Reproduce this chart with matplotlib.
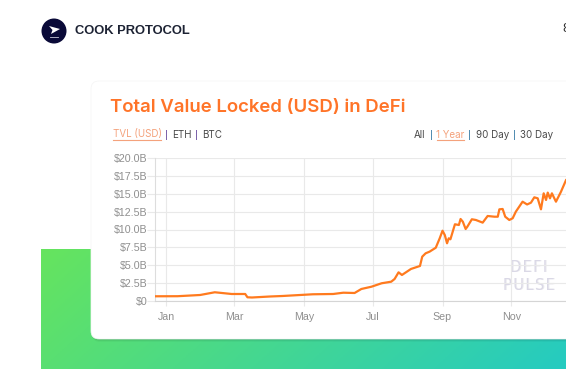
import numpy as np
import matplotlib
matplotlib.use("Agg")
import matplotlib.pyplot as plt
from matplotlib.patches import Circle, FancyBboxPatch, Polygon

W, H = 566, 369

# day of the year and TVL in billions
days = [-9.6, 10, 30, 43, 47.5, 58, 70, 72, 76, 92, 103, 130, 148, 157, 167, 173, 182, 191,
        199.5, 202.5, 206, 209, 217, 225, 227, 230, 233.5, 239, 242.5, 245, 247, 249, 250.5,
        252, 256, 259.5, 261, 263, 265.5, 267, 271, 274.6, 280.6, 285, 291, 294, 295.4, 298.3,
        300.6, 304.2, 307.2, 310, 316, 320, 323.4, 326.4, 329.4, 332.3, 334.7, 336.8, 338.3,
        340.3, 342, 345.6, 350, 354.5]
tvl = [0.66, 0.67, 0.84, 1.22, 1.15, 0.98, 0.98, 0.52, 0.49, 0.63, 0.70, 0.94, 0.98, 1.16,
       1.12, 1.68, 2.0, 2.48, 2.7, 3.08, 4.01, 3.64, 4.48, 4.9, 6.2, 6.67, 6.9, 7.45, 8.77,
       9.83, 9.23, 8.07, 8.77, 8.63, 10.73, 10.63, 11.47, 11.09, 10.07, 10.39, 11.43, 11.33,
       10.96, 11.89, 11.79, 11.79, 12.82, 12.87, 11.79, 11.33, 11.57, 12.49, 13.89, 13.5,
       13.75, 14.5, 14.36, 12.82, 15.06, 14.13, 15.16, 14.36, 15.06, 13.89, 15.27, 16.9]

month_days = [0, 60, 122, 183, 245, 306]
month_labels = ["Jan", "Mar", "May", "Jul", "Sep", "Nov"]
y_ticks = [0, 2.5, 5, 7.5, 10, 12.5, 15, 17.5, 20]
y_labels = ["$0", "$2.5B", "$5.0B", "$7.5B", "$10.0B", "$12.5B", "$15.0B", "$17.5B", "$20.0B"]

ORANGE = "#ff7a1e"
GRID = "#e9e9e9"
SANS = "Liberation Sans"


def px(size):
    # css pixels to points at dpi 100
    return size * 0.72


fig = plt.figure(figsize=(W / 100, H / 100), dpi=100, facecolor="white")

# page layer in pixel coordinates
bg = fig.add_axes([0, 0, 1, 1], zorder=0)
bg.axis("off")

xx, yy = np.meshgrid(np.linspace(0, 1, 200), np.linspace(0, 1, 60))
t = 0.8 * xx + 0.2 * yy
c0 = np.array([0x66, 0xe4, 0x5e]) / 255
c1 = np.array([0x25, 0xcb, 0xc1]) / 255
grad = c0 + (c1 - c0) * t[..., None]
bg.imshow(grad, extent=[41, W, 369, 249], aspect="auto", zorder=1)
bg.set_xlim(0, W)
bg.set_ylim(H, 0)

# card with a soft shadow, mostly under its bottom edge
for grow, alpha in [(3, 0.03), (2, 0.05), (1, 0.09)]:
    bg.add_patch(FancyBboxPatch((92, 84), 600, 255 + grow, boxstyle="round,pad=0,rounding_size=8",
                                fc="black", ec="none", alpha=alpha, zorder=2))
bg.add_patch(FancyBboxPatch((91, 81), 600, 258, boxstyle="round,pad=0,rounding_size=8",
                            fc="white", ec="#f4f4f4", lw=0.5, zorder=3))

# logo and header
bg.add_patch(Circle((54, 31), 12.5, fc="#0a0a38", ec="none", zorder=4))
bg.add_patch(Polygon([[49, 26], [60, 29], [51, 34], [52.5, 30]], fc="white", ec="none", zorder=5))
bg.plot([50, 58], [36.5, 36.5], color="#c8c8d8", lw=0.6, zorder=5)
bg.text(75, 30.5, "COOK PROTOCOL", family=SANS, weight="bold", fontsize=px(12.9),
        color="#1c2233", va="center", zorder=5)
bg.text(562.5, 29.5, "8", family=SANS, fontsize=px(13), color="#333333", va="center", zorder=5)

bg.text(109.5, 107.5, "Total Value Locked (USD) in DeFi", family="Inter", weight=600,
        fontsize=px(18.6), color="#ff7428", va="center", zorder=5)

# range switches, placed by their left edge
TAB = "#4a4a4a"
SEP = "#6b4fa0"
BLUE = "#3b7ea8"
tabs = [(113, "TVL (USD)", "#f4a27c"), (172, "ETH", TAB), (202.5, "BTC", TAB), (413.5, "All", TAB),
        (436.5, "1 Year", "#f4a27c"), (475.5, "90 Day", TAB), (520.5, "30 Day", TAB)]
separators = [(166, SEP), (196.5, SEP), (431.5, BLUE), (469.5, BLUE), (514.5, BLUE)]
for x, label, color in tabs:
    bg.text(x, 134.5, label, family="Inter", fontsize=px(9.8), color=color, va="center", zorder=5)
for x, color in separators:
    bg.text(x, 134.5, "|", family=SANS, fontsize=px(11.5), color=color, ha="center", va="center",
            zorder=5)
bg.plot([113, 160.5], [139.5, 139.5], color="#f4a27c", lw=0.8, zorder=5)
bg.plot([436.5, 464], [139.5, 139.5], color="#f4a27c", lw=0.8, zorder=5)

# chart, scaled so it runs off the right edge like the screenshot
ax = fig.add_axes([155 / W, (H - 301) / H, (W - 155) / W, 143 / H], zorder=2)
ax.patch.set_alpha(0)
ax.set_xlim(-10, 354.5)
ax.set_ylim(0, 20)
ax.set_xticks(month_days, month_labels)
ax.set_yticks(y_ticks, y_labels)
ax.grid(True, color=GRID, lw=0.8)
ax.set_axisbelow(True)
for side in ["top", "right"]:
    ax.spines[side].set_visible(False)
ax.spines["left"].set_color("#dddddd")
ax.spines["bottom"].set_color("#d5d5d5")
ax.spines["left"].set_linewidth(0.8)
ax.spines["bottom"].set_linewidth(0.8)
ax.tick_params(axis="y", color=GRID, width=0.8, length=5.5, pad=0.2, labelcolor="#8f8f8f",
               labelsize=px(10.6))
ax.tick_params(axis="x", color=GRID, width=0.8, length=3.6, pad=4.0, labelcolor="#8f8f8f",
               labelsize=px(10.6))
for label in ax.get_xticklabels() + ax.get_yticklabels():
    label.set_fontfamily(SANS)

ax.plot(days, tvl, color=ORANGE, lw=1.6, solid_joinstyle="round", zorder=3)

# watermark on top of the plot
for dx, dy, color in [(1, 1, "#ececf0"), (0, 0, "#dad8e6")]:
    bg.text(528.5 + dx, 267 + dy, "D\u200aE\u200aF\u200aI", family="DejaVu Sans", fontsize=px(14.5),
            color=color, ha="center", va="center", zorder=5)
    bg.text(529 + dx, 285 + dy, "P\u200aU\u200aL\u200aS\u200aE", family="DejaVu Sans",
            fontsize=px(14.5), color=color, ha="center", va="center", zorder=5)

fig.savefig("out.png", dpi=100)
